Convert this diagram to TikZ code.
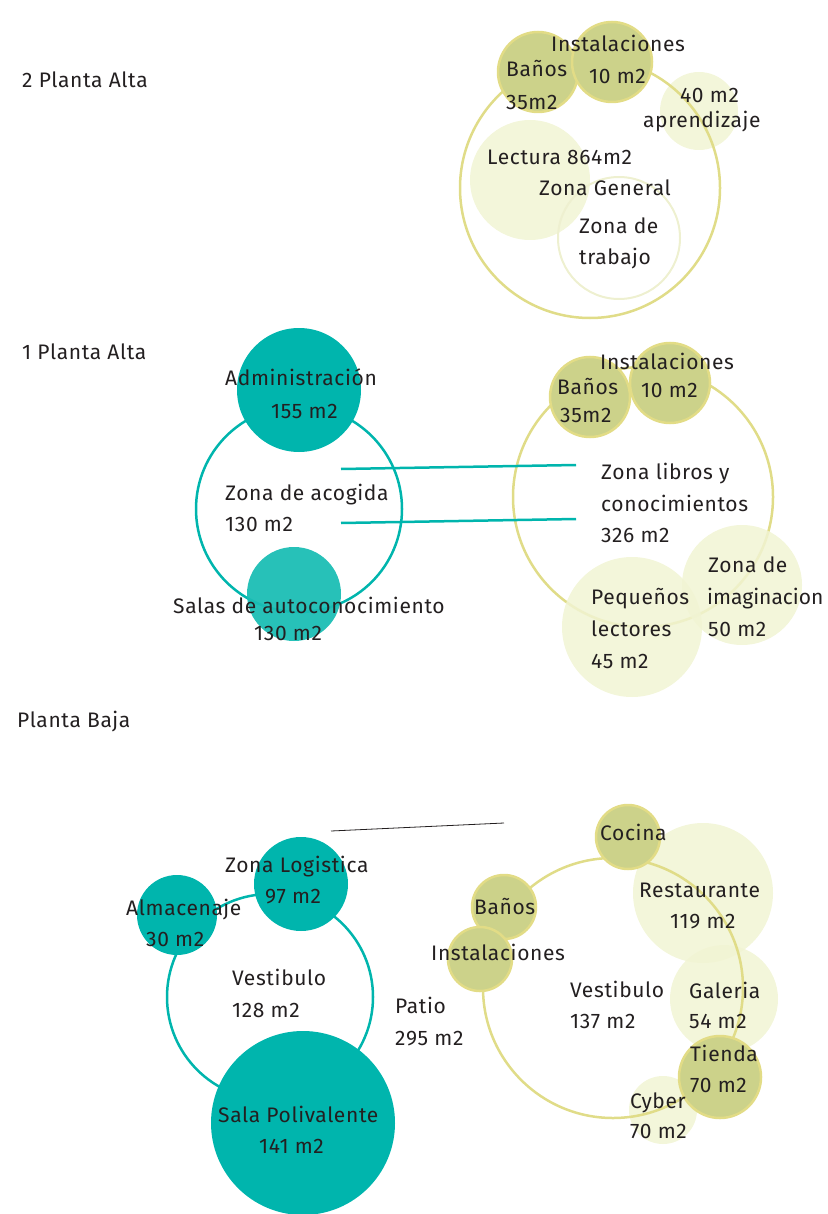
\documentclass[tikz,border=0pt]{standalone}
\usepackage{fontspec}
\setmainfont{Fira Sans}[LetterSpace=3]
\definecolor{teal1}{HTML}{00B5AD}
\definecolor{teal2}{HTML}{1ABDB4}
\definecolor{olivefill}{HTML}{CCD28A}
\definecolor{olivestroke}{HTML}{E2DC86}
\definecolor{lightfill}{HTML}{F1F4D3}
\definecolor{ringyel}{HTML}{E0DC88}
\definecolor{ringpale}{HTML}{EEF0D0}
\definecolor{txtc}{HTML}{231F20}
\tikzset{
  txt/.style={anchor=base west, inner sep=0pt, text=txtc, font=\fontsize{21}{23}\selectfont},
  ring/.style={circle, draw=ringyel, line width=2.5pt, inner sep=0pt, minimum size=#1},
  tring/.style={circle, draw=teal1, line width=2.5pt, inner sep=0pt, minimum size=#1},
  olive/.style={circle, fill=olivefill, draw=olivestroke, line width=2.5pt, inner sep=0pt, minimum size=#1},
  light/.style={circle, fill=lightfill, fill opacity=0.85, inner sep=0pt, minimum size=#1},
  tealc/.style={circle, fill=teal1, inner sep=0pt, minimum size=#1},
  link/.style={draw=teal1, line width=2.5pt},
}
\begin{document}
\begin{tikzpicture}[x=1pt,y=-1pt]
\useasboundingbox (0,0) rectangle (827,1214);
% ---------- 2 Planta Alta ----------
\node[light=120] (lect) at (530,180) {};
\node[light=78] (apre) at (699,111) {};
\node[ring=260] (gen2) at (590,188) {};
\node[circle, draw=ringpale, line width=2pt, inner sep=0pt, minimum size=122] (trab) at (619,238) {};
\node[olive=80] (ban2) at (538,72) {};
\node[olive=80] (ins2) at (612,62) {};
\node[txt] (t2pa) at (22,88) {2 Planta Alta};
\node[txt] (tins2) at (551,52) {Instalaciones};
\node[txt] (tban2) at (506,77) {Baños};
\node[txt] (t35a) at (506,110) {35m2};
\node[txt] (t10a) at (589,84) {10 m2};
\node[txt] (t40) at (680,103) {40 m2};
\node[txt] (tapr) at (643,128) {aprendizaje};
\node[txt] (tlec) at (487,165) {Lectura 864m2};
\node[txt] (tgen) at (539,196) {Zona General};
\node[txt] (tzt1) at (579,234) {Zona de};
\node[txt] (tzt2) at (579,265) {trabajo};
% ---------- 1 Planta Alta ----------
\node[tring=206] (acog) at (299,509) {};
\node[tealc=124] (adm) at (299,390) {};
\node[circle, fill=teal2, fill opacity=0.94, inner sep=0pt, minimum size=94] (salas) at (294,594) {};
\node[txt] (t1pa) at (22,359) {1 Planta Alta};
\node[txt] (tadm) at (225,385) {Administración};
\node[txt] (t155) at (271,418) {155 m2};
\node[txt] (tacog) at (225,500) {Zona de acogida};
\node[txt] (t130a) at (225,531) {130 m2};
\node[txt] (tsal) at (173,613) {Salas de autoconocimiento};
\node[txt] (t130b) at (254,640) {130 m2};
\node[ring=260] (lib) at (643,497) {};
\node[light=140] (peq) at (632,627) {};
\node[light=120] (ima) at (742,585) {};
\node[olive=80] (ban1) at (590,397) {};
\node[olive=80] (ins1) at (670,383) {};
\node[txt] (tins1) at (600,369) {Instalaciones};
\node[txt] (tban1) at (557,394) {Baños};
\node[txt] (t35b) at (560,422) {35m2};
\node[txt] (t10b) at (641,397) {10 m2};
\node[txt] (tlib1) at (601,479) {Zona libros y};
\node[txt] (tlib2) at (601,511) {conocimientos};
\node[txt] (tlib3) at (601,542) {326 m2};
\node[txt] (tpeq1) at (591,604) {Pequeños};
\node[txt] (tpeq2) at (591,636) {lectores};
\node[txt] (tpeq3) at (591,668) {45 m2};
\node[txt] (tima1) at (708,572) {Zona de};
\node[txt, font=\fontsize{21}{23}\selectfont\addfontfeatures{LetterSpace=0}] (tima2) at (707,604) {imaginacion};
\node[txt] (tima3) at (708,636) {50 m2};
\coordinate (la1) at (341,469);
\coordinate (la2) at (341,523);
\coordinate (lb1) at (576,465);
\coordinate (lb2) at (576,519);
\draw[link] (la1) -- (lb1);
\draw[link] (la2) -- (lb2);
% ---------- Planta Baja ----------
\node[txt] (tpb) at (17,727) {Planta Baja};
\coordinate (bl1) at (331,831);
\coordinate (bl2) at (504,823);
\draw[draw=txtc, line width=0.8pt] (bl1) -- (bl2);
\node[tring=206] (vest1) at (270,997) {};
\node[tealc=80] (alm) at (177,915) {};
\node[tealc=94] (log) at (301,884) {};
\node[tealc=184] (pol) at (303,1123) {};
\node[txt] (tlog) at (225,872) {Zona Logistica};
\node[txt] (t97) at (265,903) {97 m2};
\node[txt] (talm) at (126,915) {Almacenaje};
\node[txt] (t30) at (146,946) {30 m2};
\node[txt] (tves1) at (232,985) {Vestibulo};
\node[txt] (t128) at (232,1017) {128 m2};
\node[txt] (tpat) at (395,1013) {Patio};
\node[txt] (t295) at (395,1045) {295 m2};
\node[txt] (tpol) at (218,1122) {Sala Polivalente};
\node[txt] (t141) at (259,1153) {141 m2};
\node[light=140] (rest) at (703,893) {};
\node[light=108] (gal) at (724,999) {};
\node[light=68] (cyb) at (663,1110) {};
\node[ring=260] (vest2) at (613,988) {};
\node[olive=64] (coc) at (628,837) {};
\node[olive=64] (ban0) at (504,907) {};
\node[olive=64] (ins0) at (480,959) {};
\node[olive=82] (tie) at (720,1077) {};
\node[txt] (tcoc) at (600,840) {Cocina};
\node[txt] (trest) at (639,897) {Restaurante};
\node[txt] (t119) at (670,928) {119 m2};
\node[txt] (tban0) at (474,914) {Baños};
\node[txt] (tins0) at (431,960) {Instalaciones};
\node[txt] (tves2) at (570,997) {Vestibulo};
\node[txt] (t137) at (570,1028) {137 m2};
\node[txt] (tgal) at (689,998) {Galeria};
\node[txt] (t54) at (689,1028) {54 m2};
\node[txt] (ttie) at (690,1061) {Tienda};
\node[txt] (t70a) at (690,1092) {70 m2};
\node[txt] (tcyb) at (630,1108) {Cyber};
\node[txt] (t70b) at (630,1138) {70 m2};
\end{tikzpicture}
\end{document}
